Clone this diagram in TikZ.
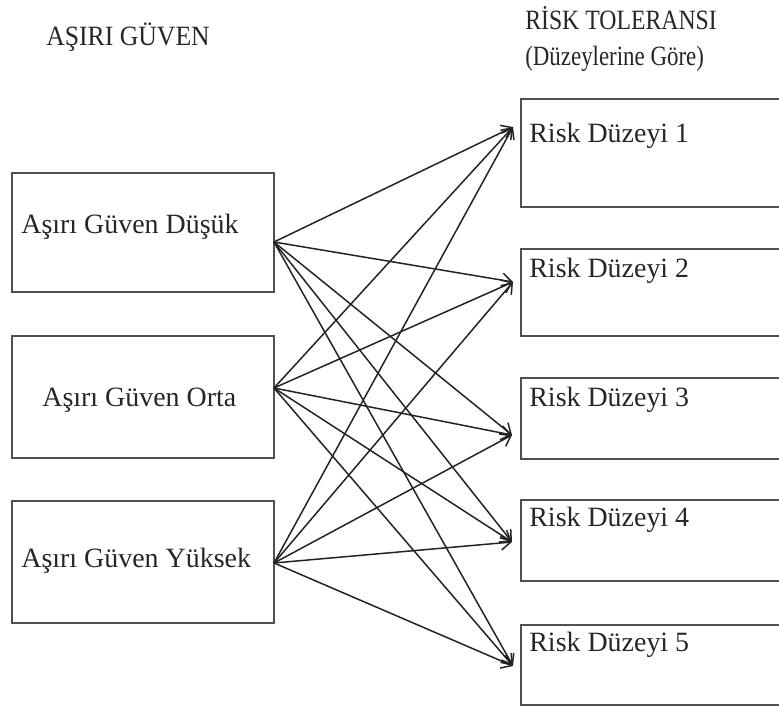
\documentclass[tikz,border=0pt]{standalone}
\usepackage{fontspec}
\setmainfont{Liberation Serif}
\usetikzlibrary{positioning,arrows.meta}
\definecolor{boxgray}{RGB}{80,80,80}
\definecolor{linegray}{RGB}{35,35,35}
\tikzset{
    lvl/.style={
        rectangle,
        draw=boxgray,
        line width=1.1pt,
        minimum width=5.24cm,
        inner sep=0pt
    },
    risk/.style={
        rectangle,
        draw=boxgray,
        line width=1.1pt,
        minimum width=5.58cm,
        inner sep=0pt
    },
    txt/.style={
        anchor=base west,
        inner sep=0pt,
        text=black!85,
        font=\fontsize{15.9}{19}\selectfont
    },
    title/.style={txt,transform shape,xscale=#1},
    arr/.style={-{Straight Barb[length=5.5pt,width=8pt]},line width=0.85pt,linegray}
}
\begin{document}
\begin{tikzpicture}[x=0.02cm,y=-0.02cm]
\useasboundingbox (0,0) rectangle (779,709);

% titles
\node[title=0.92] (t_ag) at (46,46) {AŞIRI GÜVEN};
\node[title=0.85] (t_rt) at (525,30) {RİSK TOLERANSI};
\node[title=0.82] (t_dg) at (525,66) {(Düzeylerine Göre)};

% left boxes
\node[lvl,minimum height=2.38cm] (low) at (143,232.5) {};
\node[lvl,minimum height=2.44cm] (mid) at (143,397) {};
\node[lvl,minimum height=2.44cm] (high) at (143,562) {};
\node[txt] (t_low) at (21,234) {Aşırı Güven Düşük};
\node[txt] (t_mid) at (42,407) {Aşırı Güven Orta};
\node[txt] (t_high) at (21,568) {Aşırı Güven Yüksek};

% right boxes
\node[risk,minimum height=2.16cm] (r1) at (660.5,153) {};
\node[risk,minimum height=1.74cm] (r2) at (660.5,292.5) {};
\node[risk,minimum height=1.62cm] (r3) at (660.5,418.5) {};
\node[risk,minimum height=1.62cm] (r4) at (660.5,540.5) {};
\node[risk,minimum height=1.60cm] (r5) at (660.5,665) {};
\node[txt] (t_r1) at (529,143) {Risk Düzeyi 1};
\node[txt] (t_r2) at (529,278) {Risk Düzeyi 2};
\node[txt] (t_r3) at (529,407) {Risk Düzeyi 3};
\node[txt] (t_r4) at (529,527) {Risk Düzeyi 4};
\node[txt] (t_r5) at (529,652) {Risk Düzeyi 5};

% arrow ends
\coordinate (o1) at (274,242);
\coordinate (o2) at (274,388);
\coordinate (o3) at (274,563);
\coordinate (p1) at (513,127);
\coordinate (p2) at (513,282);
\coordinate (p3) at (512,435);
\coordinate (p4) at (512,542);
\coordinate (p5) at (513,666);

\foreach \i in {1,2,3}
  \foreach \j in {1,...,5}
    \draw[arr] (o\i) -- (p\j);
\end{tikzpicture}
\end{document}
